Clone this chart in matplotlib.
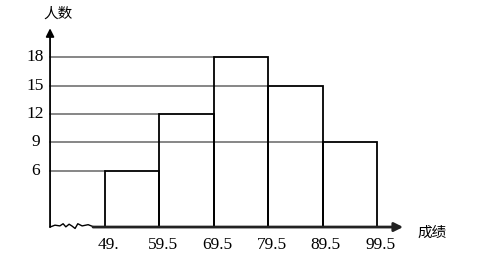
import matplotlib.pyplot as plt
import numpy as np

# histogram data
edges = [49.5, 59.5, 69.5, 79.5, 89.5, 99.5]
counts = [6, 12, 18, 15, 9]
edge_labels = ['49.', '59.5', '69.5', '79.5', '89.5', '99.5']
yticks = [6, 9, 12, 15, 18]

x0 = 39.4      # where the y axis stands
x_end = 104.3  # x arrow tip
y_end = 21.1   # y arrow tip

fig = plt.figure(figsize=(4.98, 2.57), dpi=100)
ax = fig.add_axes([0, 0, 1, 1])
ax.set_xlim(30.2, 121.74)
ax.set_ylim(-3.18, 24.1)
ax.axis('off')

# gray guide lines from the axis to the bar with that height
for v in yticks:
    i = counts.index(v)
    ax.plot([x0, edges[i]], [v, v], color='#666666', lw=1.1, zorder=1)

# bars
ax.bar(edges[:-1], counts, width=np.diff(edges), align='edge',
       fill=False, edgecolor='black', lw=1.3, zorder=2)

# axis break zigzag near origin
zz_x = np.array([0, 0.9, 1.8, 2.4, 2.9, 3.5, 4.0, 4.6, 5.1, 5.9, 7.0, 7.9])
zz_y = np.array([0, 0.2, 0.12, 0.35, 0.02, 0.3, 0.12, -0.15, 0.35, 0.12, 0.25, 0.05])
ax.plot(x0 + zz_x, zz_y, color='black', lw=1.0, zorder=3)

# axes with arrows
ax.annotate('', xy=(x_end, 0), xytext=(x0 + 7.9, 0),
            arrowprops=dict(arrowstyle='-|>', color='#222222', lw=2,
                            mutation_scale=13, shrinkA=0, shrinkB=0))
ax.annotate('', xy=(x0, y_end), xytext=(x0, 0),
            arrowprops=dict(arrowstyle='-|>', color='black', lw=1.3,
                            mutation_scale=12, shrinkA=0, shrinkB=0))

# tick labels
for e, lab in zip(edges, edge_labels):
    ax.text(e + 0.6, -1.91, lab, ha='center', va='center',
            fontsize=12.5, family='Liberation Serif')
for v in yticks:
    ax.text(36.7, v, str(v), ha='center', va='center',
            fontsize=12.5, family='Liberation Serif')

ax.text(x0 + 1.4, 22.6, '人数', ha='center', va='center',
        fontsize=10.5, family=['Noto Sans CJK SC', 'DejaVu Sans'])
ax.text(109.7, -0.64, '成绩', ha='center', va='center',
        fontsize=10.5, family=['Noto Sans CJK SC', 'DejaVu Sans'])

plt.savefig('out.png', dpi=100)
